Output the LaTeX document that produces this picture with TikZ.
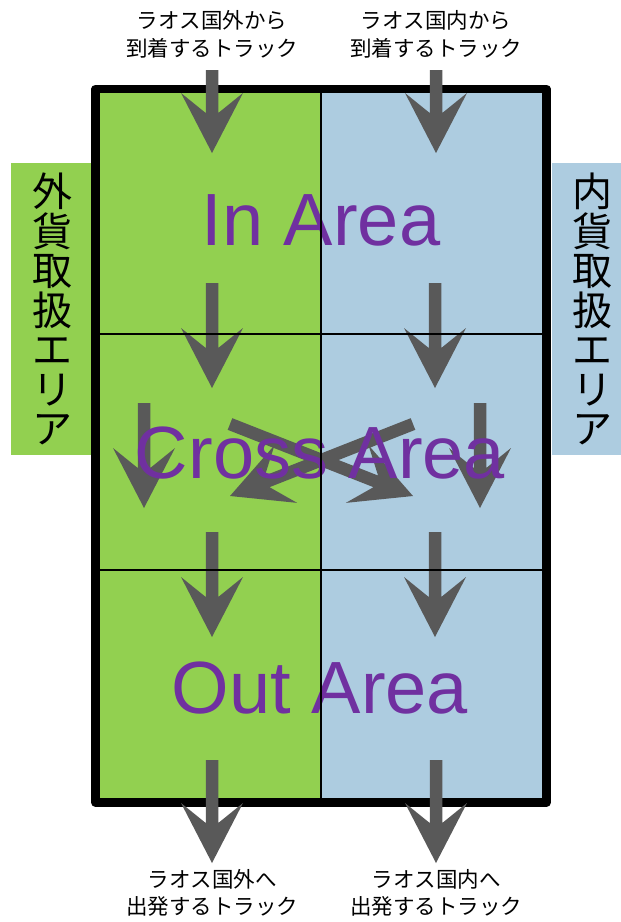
\documentclass[tikz,border=0pt]{standalone}
\usepackage{fontspec}
\setmainfont{Liberation Sans}
\newfontfamily\jpfont{Noto Sans CJK JP}
\usetikzlibrary{calc}
\definecolor{areagreen}{RGB}{146,208,80}
\definecolor{areablue}{RGB}{173,204,224}
\definecolor{arrowgray}{RGB}{89,89,89}
\definecolor{areapurple}{RGB}{112,48,160}
\newcommand\blockarrow[3]{% start, end, name
  \coordinate (#3n) at ($(#2)!40pt!(#1)$);
  \coordinate (#3h) at ($(#2)!60pt!(#1)$);
  \fill[arrowgray] ($(#1)!6.25pt!90:(#2)$) -- ($(#3n)!6.25pt!90:(#2)$) -- ($(#3h)!31pt!90:(#2)$) -- (#2) -- ($(#3h)!31pt!-90:(#2)$) -- ($(#3n)!6.25pt!-90:(#2)$) -- ($(#1)!6.25pt!-90:(#2)$) -- cycle;
}
\tikzset{
  areatext/.style={font=\fontsize{74}{80}\selectfont, text=areapurple, inner sep=0pt, anchor=base},
  jplabel/.style={font=\jpfont\fontsize{21.5}{27.5}\selectfont, align=center, inner sep=0pt},
  sidetext/.style={font=\jpfont\fontsize{40}{39.5}\selectfont, align=center, inner sep=0pt},
  innerline/.style={line width=2.5pt, black},
}
\begin{document}
\begin{tikzpicture}[x=1pt, y=-1pt]
\useasboundingbox (0,0) rectangle (621,922);
% side boxes
\fill[areagreen] (11,163) rectangle (92,455);
\fill[areablue] (552,163) rectangle (621,455);
\node[sidetext] (outside) at (52.5,309) {外\\貨\\取\\扱\\エ\\リ\\ア};
\node[sidetext] (inside) at (592.5,309) {内\\貨\\取\\扱\\エ\\リ\\ア};
% area fills
\fill[areagreen] (95.5,89) rectangle (321,802.5);
\fill[areablue] (321,89) rectangle (546.5,802.5);
% outer frame
\draw[line width=8.5pt, line join=round] (95.5,89) rectangle (546.5,802.5);
% arrow end points
\coordinate (t1s) at (212,70);  \coordinate (t1e) at (212,153);
\coordinate (t2s) at (436,70);  \coordinate (t2e) at (436,153);
\coordinate (r1s) at (212,283); \coordinate (r1e) at (212,388);
\coordinate (r2s) at (435,283); \coordinate (r2e) at (435,388);
\coordinate (c1s) at (144,403); \coordinate (c1e) at (144,508);
\coordinate (c2s) at (480,403); \coordinate (c2e) at (480,508);
\coordinate (d1s) at (413,424); \coordinate (d1e) at (230,496);
\coordinate (d2s) at (230,424); \coordinate (d2e) at (413,496);
\coordinate (s1s) at (212,532); \coordinate (s1e) at (212,637);
\coordinate (s2s) at (435,532); \coordinate (s2e) at (435,637);
\coordinate (b1s) at (212,760); \coordinate (b1e) at (212,863);
\coordinate (b2s) at (436,760); \coordinate (b2e) at (436,863);
\blockarrow{t1s}{t1e}{t1}
\blockarrow{t2s}{t2e}{t2}
\blockarrow{r1s}{r1e}{r1}
\blockarrow{r2s}{r2e}{r2}
\blockarrow{c1s}{c1e}{c1}
\blockarrow{c2s}{c2e}{c2}
\blockarrow{d1s}{d1e}{d1}
\blockarrow{d2s}{d2e}{d2}
\blockarrow{s1s}{s1e}{s1}
\blockarrow{s2s}{s2e}{s2}
\blockarrow{b1s}{b1e}{b1}
\blockarrow{b2s}{b2e}{b2}
% area texts
\node[areatext] (inarea) at (321,245) {In Area};
\node[areatext] (crossarea) at (320,478) {Cross Area};
\node[areatext] (outarea) at (320,713) {Out Area};
% inner lines
\draw[innerline] (95.5,334) -- (546.5,334);
\draw[innerline] (95.5,570) -- (546.5,570);
\draw[innerline] (321,89) -- (321,802.5);
% labels
\node[jplabel] (inforeign) at (212,34.5) {ラオス国外から\\到着するトラック};
\node[jplabel] (indomestic) at (436,34.5) {ラオス国内から\\到着するトラック};
\node[jplabel] (outforeign) at (212,893) {ラオス国外へ\\出発するトラック};
\node[jplabel] (outdomestic) at (436,893) {ラオス国内へ\\出発するトラック};
\end{tikzpicture}
\end{document}
